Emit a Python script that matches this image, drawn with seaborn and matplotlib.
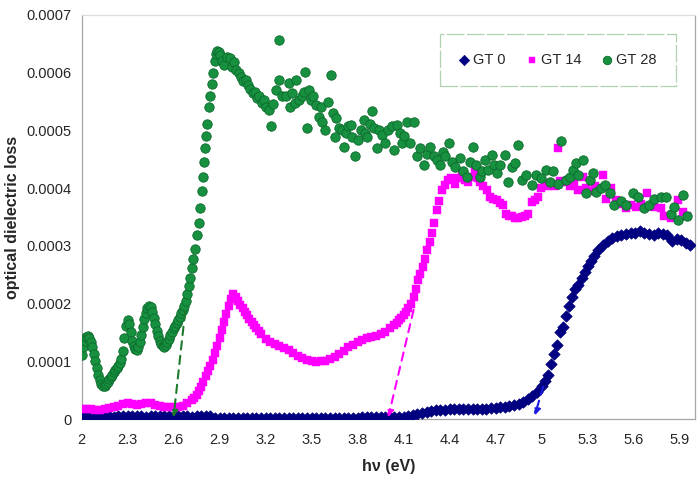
import matplotlib
matplotlib.use("Agg")
import matplotlib.pyplot as plt
import seaborn as sns
import pandas as pd

# photon energy (eV) and optical dielectric loss
gt0_energy = [2.00, 2.03, 2.06, 2.09, 2.12, 2.15, 2.18, 2.21, 2.24, 2.27, 2.30, 2.33, 2.36, 2.39, 2.42,
              2.45, 2.48, 2.51, 2.54, 2.57, 2.60, 2.63, 2.66, 2.69, 2.72, 2.75, 2.78, 2.81, 2.84,
              2.87, 2.90, 2.93, 2.96, 2.99, 3.02, 3.05, 3.08, 3.11, 3.14, 3.17, 3.20, 3.23, 3.26,
              3.29, 3.32, 3.35, 3.38, 3.41, 3.44, 3.47, 3.50, 3.53, 3.56, 3.59, 3.62, 3.65, 3.68,
              3.71, 3.74, 3.77, 3.80, 3.83, 3.86, 3.89, 3.92, 3.95, 3.98, 4.01, 4.04,
              4.07, 4.10, 4.13, 4.16, 4.19, 4.22, 4.25, 4.28, 4.31, 4.34, 4.37, 4.40, 4.43, 4.46,
              4.49, 4.52, 4.55, 4.58, 4.61, 4.64, 4.67, 4.70, 4.73, 4.76, 4.79, 4.82, 4.85, 4.88,
              4.91, 4.94,
              4.97, 5.00, 5.02, 5.04, 5.06, 5.08, 5.10, 5.12, 5.14, 5.16, 5.18, 5.20, 5.22, 5.24,
              5.26, 5.28, 5.30, 5.32, 5.34, 5.37, 5.40, 5.43, 5.46, 5.49, 5.52, 5.55, 5.58, 5.61,
              5.64, 5.67, 5.70, 5.73, 5.76, 5.79, 5.82, 5.85, 5.88, 5.91, 5.94, 5.97]
gt0_loss = [4e-6, 5e-6, 6e-6, 6e-6, 5e-6, 5e-6, 5e-6, 4e-6, 5e-6, 5e-6, 6e-6, 5e-6, 5e-6, 5e-6, 4e-6,
            5e-6, 5e-6, 5e-6, 5e-6, 6e-6, 5e-6, 5e-6, 5e-6, 5e-6, 4e-6, 5e-6, 5e-6, 5e-6, 5e-6,
            2e-6, 2e-6, 2e-6, 2e-6, 2e-6, 2e-6, 2e-6, 2e-6, 2e-6, 2e-6, 2e-6, 2e-6, 2e-6, 2e-6,
            2e-6, 2e-6, 2e-6, 2e-6, 2e-6, 2e-6, 2e-6, 2e-6, 2e-6, 2e-6, 2e-6, 2e-6, 2e-6, 2e-6,
            2e-6, 2e-6, 2e-6, 2e-6, 3e-6, 3e-6, 3e-6, 3e-6, 3e-6, 3e-6, 3e-6, 3e-6,
            3e-6, 4e-6, 5e-6, 7e-6, 9e-6, 11e-6, 13e-6, 14e-6, 15e-6, 16e-6, 16e-6, 17e-6, 17e-6, 17e-6,
            17e-6, 17e-6, 18e-6, 18e-6, 18e-6, 18e-6, 19e-6, 19e-6, 20e-6, 21e-6, 22e-6, 24e-6, 26e-6, 29e-6,
            34e-6, 40e-6,
            46e-6, 57e-6, 65e-6, 76e-6, 95e-6, 113e-6, 128e-6, 150e-6, 160e-6, 178e-6, 195e-6, 212e-6, 226e-6, 233e-6,
            245e-6, 254e-6, 265e-6, 274e-6, 283e-6, 292e-6, 301e-6, 308e-6, 314e-6, 317e-6, 319e-6, 321e-6, 322e-6, 323e-6,
            325e-6, 323e-6, 320e-6, 319e-6, 322e-6, 321e-6, 318e-6, 308e-6, 312e-6, 310e-6, 305e-6, 302e-6]

gt14_energy = [2.00, 2.03, 2.06, 2.09, 2.12, 2.15, 2.18, 2.21, 2.24, 2.27, 2.30, 2.33, 2.36, 2.39, 2.42,
               2.45, 2.48, 2.51, 2.54, 2.57, 2.60, 2.63, 2.66, 2.69,
               2.72, 2.735, 2.75, 2.765, 2.78, 2.795, 2.81, 2.825, 2.84, 2.855, 2.87, 2.885, 2.90, 2.915,
               2.93, 2.945, 2.96, 2.975, 2.99, 3.005, 3.02, 3.035, 3.05, 3.065, 3.08, 3.095, 3.11, 3.125,
               3.14, 3.155, 3.17,
               3.20, 3.23, 3.26, 3.29, 3.32, 3.35, 3.38, 3.41, 3.44, 3.47, 3.50, 3.53, 3.56, 3.59, 3.62,
               3.65, 3.68, 3.71, 3.74, 3.77, 3.80, 3.83, 3.86, 3.89, 3.92, 3.95, 3.98, 4.01,
               4.04, 4.055, 4.07, 4.085, 4.10, 4.115, 4.13, 4.145,
               4.166, 4.18, 4.195, 4.21, 4.225, 4.24, 4.255, 4.27, 4.285, 4.30, 4.315, 4.33, 4.35, 4.37,
               4.39, 4.41, 4.435, 4.46, 4.48, 4.50, 4.52, 4.545, 4.566, 4.585, 4.60, 4.62, 4.642, 4.664,
               4.685, 4.707, 4.73, 4.75, 4.765, 4.785, 4.804, 4.825, 4.847, 4.87, 4.891, 4.912, 4.934,
               4.955, 4.975, 4.999, 5.02, 5.04, 5.064, 5.086, 5.107, 5.12, 5.15, 5.183, 5.21, 5.237,
               5.27, 5.291, 5.32, 5.345, 5.37, 5.40, 5.42, 5.453, 5.486, 5.52, 5.551, 5.585, 5.616,
               5.65, 5.69, 5.735, 5.778, 5.80, 5.843, 5.886, 5.919, 5.951]
gt14_loss = [17e-6, 18e-6, 18e-6, 16e-6, 15e-6, 17e-6, 19e-6, 21e-6, 23e-6, 26e-6, 27e-6, 26e-6, 25e-6, 26e-6, 28e-6,
             28e-6, 25e-6, 22e-6, 21e-6, 20e-6, 20e-6, 21e-6, 23e-6, 27e-6,
             33e-6, 37e-6, 42e-6, 48e-6, 55e-6, 64e-6, 75e-6, 83e-6, 92e-6, 103e-6, 115e-6, 127e-6, 140e-6, 154e-6,
             168e-6, 182e-6, 196e-6, 208e-6, 217e-6, 211e-6, 204e-6, 198e-6, 192e-6, 186e-6, 180e-6, 174e-6, 168e-6, 163e-6,
             158e-6, 152e-6, 147e-6,
             139e-6, 134e-6, 130e-6, 127e-6, 123e-6, 119e-6, 114e-6, 109e-6, 105e-6, 102e-6, 100e-6, 99e-6, 100e-6, 101e-6, 104e-6,
             108e-6, 113e-6, 118e-6, 124e-6, 129e-6, 133e-6, 137e-6, 140e-6, 142e-6, 144e-6, 147e-6, 151e-6, 157e-6,
             163e-6, 167e-6, 171e-6, 175e-6, 180e-6, 186e-6, 192e-6, 200e-6,
             212e-6, 226e-6, 240e-6, 252e-6, 264e-6, 278e-6, 292e-6, 307e-6, 322e-6, 340e-6, 362e-6, 378e-6, 397e-6, 406e-6,
             414e-6, 417e-6, 408e-6, 418e-6, 423e-6, 414e-6, 410e-6, 420e-6, 432e-6, 418e-6, 411e-6, 403e-6, 397e-6, 385e-6,
             382e-6, 380e-6, 375e-6, 371e-6, 356e-6, 352e-6, 351e-6, 349e-6, 348e-6, 350e-6, 351e-6, 356e-6, 376e-6,
             380e-6, 385e-6, 400e-6, 405e-6, 404e-6, 408e-6, 403e-6, 469e-6, 413e-6, 411e-6, 403e-6, 410e-6, 397e-6,
             420e-6, 400e-6, 395e-6, 403e-6, 398e-6, 423e-6, 382e-6, 400e-6, 380e-6, 372e-6, 365e-6, 370e-6, 368e-6,
             372e-6, 391e-6, 368e-6, 365e-6, 351e-6, 348e-6, 380e-6, 359e-6, 351e-6]

gt28_energy = [2.00, 2.01, 2.02, 2.03, 2.04, 2.05, 2.06, 2.07, 2.08, 2.09, 2.10, 2.11, 2.12, 2.13, 2.14,
               2.15, 2.16, 2.17, 2.18, 2.19, 2.20, 2.21, 2.22, 2.23, 2.24, 2.25, 2.26, 2.27, 2.28, 2.29,
               2.30, 2.31, 2.32, 2.33, 2.34, 2.35, 2.36, 2.37, 2.38, 2.39, 2.40, 2.41, 2.42, 2.43, 2.44,
               2.45, 2.46, 2.47, 2.48, 2.49, 2.50, 2.51, 2.52, 2.53, 2.54, 2.55, 2.56, 2.57, 2.58, 2.59,
               2.60, 2.61, 2.62, 2.63, 2.64, 2.65, 2.66, 2.67, 2.68, 2.69, 2.70, 2.71, 2.72, 2.73, 2.74,
               2.755, 2.765, 2.775, 2.785, 2.79, 2.80, 2.805, 2.81, 2.82, 2.83, 2.84, 2.85, 2.86, 2.87,
               2.875, 2.885, 2.895, 2.905, 2.915, 2.93, 2.95, 2.965, 2.98, 2.995, 3.01, 3.025, 3.04, 3.055,
               3.07, 3.085, 3.10, 3.115, 3.13, 3.145, 3.16, 3.175, 3.19, 3.205, 3.22, 3.235, 3.25, 3.27,
               3.29, 3.29, 3.31, 3.33, 3.35, 3.36, 3.375, 3.39, 3.40, 3.42, 3.44, 3.45, 3.46, 3.47, 3.48,
               3.495, 3.51, 3.53, 3.55, 3.56, 3.57, 3.59, 3.61, 3.625, 3.64, 3.65, 3.66, 3.68, 3.70, 3.71,
               3.725, 3.74, 3.755, 3.765, 3.78, 3.80, 3.82, 3.84, 3.85, 3.862, 3.88, 3.895, 3.91, 3.927,
               3.94, 3.96, 3.98, 4.00, 4.025, 4.035, 4.057, 4.075, 4.09, 4.105, 4.122, 4.144, 4.166, 4.187,
               4.209, 4.23, 4.25, 4.274, 4.295, 4.317, 4.34, 4.36, 4.371, 4.393, 4.415, 4.436, 4.469, 4.49,
               4.512, 4.53, 4.555, 4.575, 4.599, 4.61, 4.63, 4.65, 4.674, 4.69, 4.707, 4.73, 4.761, 4.78,
               4.804, 4.826, 4.847, 4.869, 4.90, 4.934, 4.966, 4.999, 5.031, 5.053, 5.075, 5.107, 5.129,
               5.161, 5.183, 5.205, 5.226, 5.237, 5.27, 5.291, 5.313, 5.334, 5.356, 5.388, 5.41, 5.443,
               5.475, 5.518, 5.551, 5.594, 5.627, 5.67, 5.703, 5.735, 5.778, 5.81, 5.843, 5.865, 5.886,
               5.919, 5.951]
gt28_loss = [111e-6, 125e-6, 136e-6, 142e-6, 143e-6, 140e-6, 133e-6, 124e-6, 113e-6, 100e-6, 88e-6, 76e-6, 67e-6, 60e-6, 57e-6,
             57e-6, 60e-6, 64e-6, 69e-6, 73e-6, 77e-6, 81e-6, 85e-6, 88e-6, 92e-6, 97e-6, 104e-6, 118e-6, 140e-6, 162e-6,
             172e-6, 165e-6, 150e-6, 136e-6, 126e-6, 121e-6, 120e-6, 124e-6, 133e-6, 146e-6, 160e-6, 173e-6, 184e-6, 192e-6, 196e-6,
             194e-6, 186e-6, 175e-6, 164e-6, 153e-6, 144e-6, 136e-6, 130e-6, 126e-6, 125e-6, 128e-6, 133e-6, 139e-6, 145e-6, 151e-6,
             157e-6, 162e-6, 167e-6, 172e-6, 177e-6, 183e-6, 189e-6, 196e-6, 205e-6, 216e-6, 230e-6, 245e-6, 262e-6, 278e-6, 295e-6,
             318e-6, 340e-6, 365e-6, 395e-6, 420e-6, 445e-6, 470e-6, 490e-6, 512e-6, 540e-6, 560e-6, 580e-6, 600e-6, 620e-6,
             632e-6, 638e-6, 636e-6, 630e-6, 620e-6, 613e-6, 628e-6, 625e-6, 610e-6, 618e-6, 605e-6, 600e-6, 592e-6, 585e-6,
             588e-6, 578e-6, 572e-6, 565e-6, 567e-6, 556e-6, 560e-6, 548e-6, 552e-6, 540e-6, 535e-6, 507e-6, 545e-6, 570e-6,
             587e-6, 657e-6, 560e-6, 559e-6, 582e-6, 540e-6, 564e-6, 548e-6, 587e-6, 553e-6, 560e-6, 567e-6, 602e-6, 504e-6, 570e-6,
             553e-6, 560e-6, 544e-6, 524e-6, 540e-6, 515e-6, 501e-6, 550e-6, 596e-6, 530e-6, 489e-6, 521e-6, 505e-6, 501e-6, 472e-6,
             495e-6, 507e-6, 510e-6, 489e-6, 455e-6, 483e-6, 500e-6, 518e-6, 495e-6, 489e-6, 512e-6, 533e-6, 505e-6, 469e-6,
             501e-6, 492e-6, 478e-6, 500e-6, 507e-6, 466e-6, 510e-6, 495e-6, 478e-6, 490e-6, 515e-6, 478e-6, 515e-6, 455e-6,
             469e-6, 440e-6, 460e-6, 472e-6, 455e-6, 449e-6, 440e-6, 462e-6, 455e-6, 478e-6, 445e-6, 437e-6, 452e-6, 430e-6,
             420e-6, 445e-6, 472e-6, 440e-6, 420e-6, 430e-6, 449e-6, 432e-6, 458e-6, 440e-6, 426e-6, 440e-6, 458e-6, 411e-6,
             437e-6, 443e-6, 475e-6, 414e-6, 423e-6, 406e-6, 423e-6, 417e-6, 432e-6, 411e-6, 429e-6, 408e-6, 481e-6,
             414e-6, 420e-6, 432e-6, 443e-6, 423e-6, 449e-6, 391e-6, 414e-6, 426e-6, 394e-6, 400e-6, 406e-6, 391e-6,
             371e-6, 377e-6, 371e-6, 391e-6, 385e-6, 365e-6, 371e-6, 382e-6, 385e-6, 385e-6, 356e-6, 368e-6, 345e-6,
             388e-6, 351e-6]

# band-edge extrapolation arrows: (start energy, start loss, end energy, end loss)
arrow_gt28 = [2.675, 185e-6, 2.60, 3e-6]
arrow_gt14 = [4.165, 189e-6, 4.00, 3e-6]
arrow_gt0 = [5.01, 56e-6, 4.955, 6e-6]

x_ticks = [2.0, 2.3, 2.6, 2.9, 3.2, 3.5, 3.8, 4.1, 4.4, 4.7, 5.0, 5.3, 5.6, 5.9]
x_tick_labels = ["2", "2.3", "2.6", "2.9", "3.2", "3.5", "3.8", "4.1", "4.4", "4.7", "5", "5.3", "5.6", "5.9"]
y_ticks = [0, 0.0001, 0.0002, 0.0003, 0.0004, 0.0005, 0.0006, 0.0007]
y_tick_labels = ["0", "0.0001", "0.0002", "0.0003", "0.0004", "0.0005", "0.0006", "0.0007"]

sns.set_style("white")
plt.rcParams["font.family"] = ["Liberation Sans", "DejaVu Sans"]

fig = plt.figure(figsize=(6.98, 4.87), dpi=100)
ax = fig.add_axes([0.1168, 0.1396, 0.8789, 0.8296])

df0 = pd.DataFrame({"hv": gt0_energy, "loss": gt0_loss})
df14 = pd.DataFrame({"hv": gt14_energy, "loss": gt14_loss})
df28 = pd.DataFrame({"hv": gt28_energy, "loss": gt28_loss})

sns.scatterplot(data=df0, x="hv", y="loss", marker="D", s=34, color="#000080",
                edgecolor="#000080", linewidth=0.5, label="GT 0", ax=ax, zorder=3)
sns.scatterplot(data=df14, x="hv", y="loss", marker="s", s=28, color="#ff00ff",
                edgecolor="#ff00ff", linewidth=0.3, label="GT 14", ax=ax, zorder=4)
sns.scatterplot(data=df28, x="hv", y="loss", marker="o", s=46, color="#179040",
                edgecolor="#0b6a2b", linewidth=0.6, label="GT 28", ax=ax, zorder=5)

# dashed extrapolation arrows
for arr, col in [(arrow_gt28, "#1c7a2c"), (arrow_gt14, "#ff00ff"), (arrow_gt0, "#1a1ae0")]:
    ax.annotate("", xy=(arr[2], arr[3]), xytext=(arr[0], arr[1]),
                arrowprops=dict(arrowstyle="-|>", linestyle=(0, (4, 3)), color=col, lw=1.5,
                                mutation_scale=10, shrinkA=0, shrinkB=0), zorder=6)

ax.set_xlim(2.0, 6.0)
ax.set_ylim(0, 0.0007)
ax.set_xticks(x_ticks)
ax.set_xticklabels(x_tick_labels)
ax.set_yticks(y_ticks)
ax.set_yticklabels(y_tick_labels)
ax.tick_params(axis="both", which="major", labelsize=10.5, direction="out", length=4,
               width=0.8, color="#8c8c8c", pad=3)
ax.tick_params(axis="x", pad=6)

for side in ["left", "bottom", "right", "top"]:
    ax.spines[side].set_color("#a6a6a6")
    ax.spines[side].set_linewidth(0.9)
ax.spines["top"].set_color("#dcdcdc")

ax.set_xlabel("hν (eV)", fontsize=11.5, fontweight="bold", labelpad=9)
ax.set_ylabel("optical dielectric loss", fontsize=11.5, fontweight="bold", labelpad=5)

leg = ax.legend(loc="center", bbox_to_anchor=(0.776, 0.889), ncol=3, fontsize=10.5,
                frameon=True, fancybox=False, handletextpad=0.2, columnspacing=1.4,
                handlelength=0.8, borderpad=1.3, borderaxespad=0, markerscale=0.9)
leg.get_frame().set_edgecolor("#9cc79c")
leg.get_frame().set_linewidth(0.9)
leg.get_frame().set_linestyle((0, (14, 2)))

fig.savefig("out.png", dpi=100)
plt.close(fig)
